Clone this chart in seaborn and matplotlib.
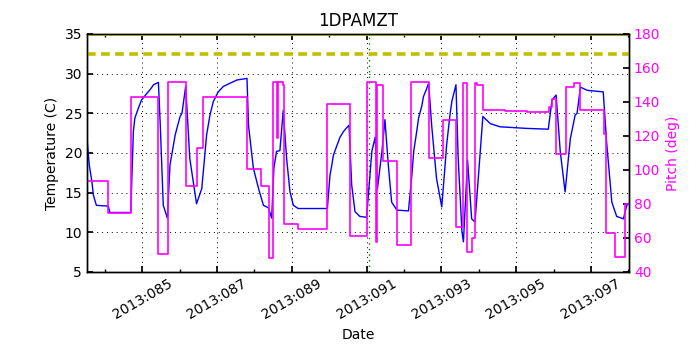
"""
Temperature 1DPAMZT vs pitch, with the yellow limit lines.
Days are day-of-year 2013.
"""
import matplotlib
matplotlib.use("Agg")
import matplotlib.pyplot as plt
import seaborn as sns
import pandas as pd

# ---------------------------------------------------------------------------
# Data
# ---------------------------------------------------------------------------
temp_days = [
    83.52, 83.58, 83.65, 83.69, 83.77, 84.09, 84.13, 84.69, 84.76, 84.80,
    84.89, 84.98, 85.12, 85.21, 85.30, 85.43, 85.48, 85.56, 85.67, 85.74,
    85.88, 86.01, 86.06, 86.16, 86.27, 86.45, 86.59, 86.72, 86.81, 86.90,
    87.03, 87.17, 87.44, 87.53, 87.80, 87.84, 87.97, 88.11, 88.24, 88.37,
    88.46, 88.52, 88.59, 88.68, 88.77, 88.86, 88.95, 89.04, 89.17, 89.95,
    90.02, 90.07, 90.11, 90.21, 90.29, 90.38, 90.47, 90.53, 90.60, 90.69,
    90.82, 91.00, 91.14, 91.23, 91.29, 91.41, 91.49, 91.58, 91.67, 91.81,
    92.12, 92.21, 92.26, 92.34, 92.39, 92.48, 92.52, 92.59, 92.66, 92.74,
    92.87, 93.01, 93.10, 93.14, 93.23, 93.28, 93.39, 93.45, 93.55, 93.59,
    93.70, 93.81, 93.90, 94.11, 94.31, 94.57, 95.28, 95.86, 95.96, 96.07,
    96.18, 96.31, 96.45, 96.58, 96.63, 96.72, 96.90, 97.33, 97.42, 97.56,
    97.69, 97.87, 97.96, 98.02,
]
temp_vals = [
    21.8, 18.5, 16.4, 14.7, 13.4, 13.3, 12.5, 12.5, 22.7, 24.4,
    25.6, 26.7, 27.5, 28.0, 28.6, 28.9, 23.5, 13.4, 11.8, 18.5,
    22.3, 24.6, 25.0, 28.4, 19.3, 13.6, 15.5, 22.3, 24.8, 26.5,
    27.7, 28.4, 29.0, 29.2, 29.4, 23.5, 18.1, 15.5, 13.4, 13.1,
    11.8, 18.1, 20.2, 20.3, 25.4, 19.3, 15.1, 13.4, 13.0, 13.0,
    17.2, 18.5, 19.7, 21.0, 22.0, 22.7, 23.2, 23.5, 16.0, 12.6,
    12.0, 11.9, 20.2, 22.0, 15.5, 20.2, 24.2, 18.5, 13.8, 12.8,
    12.7, 17.2, 20.2, 22.7, 24.4, 26.0, 27.1, 27.9, 28.8, 23.5,
    16.8, 13.2, 18.5, 21.0, 24.8, 26.5, 28.6, 19.3, 10.1, 8.8,
    19.1, 11.7, 11.3, 24.6, 23.7, 23.3, 23.1, 23.0, 26.7, 27.3,
    20.2, 15.1, 21.8, 24.8, 25.0, 28.3, 27.9, 27.7, 21.4, 13.8,
    12.0, 11.7, 13.4, 13.6,
]

pitch_days = [
    83.52, 84.09, 84.70, 85.43, 85.70, 86.16, 86.45, 86.61, 87.80, 88.18,
    88.40, 88.49, 88.61, 88.64, 88.75, 88.79, 89.17, 89.95, 90.55, 91.00,
    91.25, 91.29, 91.45, 91.81, 92.19, 92.66, 93.04, 93.39, 93.59, 93.68,
    93.83, 93.90, 93.95, 94.11, 94.71, 95.28, 95.89, 95.97, 96.07, 96.34,
    96.54, 96.72, 97.35, 97.40, 97.65, 97.92, 98.02,
]
pitch_vals = [
    93.5, 74.5, 142.8, 50.4, 152.0, 90.8, 113.0, 143.1, 100.6, 90.8,
    48.0, 152.0, 118.6, 152.0, 150.0, 68.0, 65.1, 138.8, 61.2, 152.0,
    57.8, 150.0, 105.5, 55.9, 151.6, 106.9, 129.4, 66.7, 151.0, 52.0,
    59.8, 151.0, 150.0, 135.3, 134.7, 134.4, 137.0, 142.0, 109.2, 149.0,
    151.4, 135.3, 121.0, 62.8, 48.6, 79.8, 79.8,
]

caution_limit = 32.5
planning_limit = 35.0
marker_day = 91.06

tick_days = [85, 87, 89, 91, 93, 95, 97]
tick_labels = [f"2013:{d:03d}" for d in tick_days]
minor_days = [84, 86, 88, 90, 92, 94, 96, 98]

# ---------------------------------------------------------------------------
# Plot
# ---------------------------------------------------------------------------
sns.set_theme(style="white", rc={
    "xtick.direction": "in",
    "ytick.direction": "in",
    "xtick.top": True,
    "xtick.bottom": True,
    "ytick.left": True,
    "axes.edgecolor": "black",
    "axes.linewidth": 1.0,
    "xtick.major.size": 4,
    "xtick.minor.size": 2,
    "ytick.major.size": 4,
    "xtick.color": "black",
    "ytick.color": "black",
    "text.color": "black",
    "axes.labelcolor": "black",
})
plt.rcParams["font.family"] = ["DejaVu Sans"]

temp_df = pd.DataFrame({"day": temp_days, "temp": temp_vals})
pitch_df = pd.DataFrame({"day": pitch_days, "pitch": pitch_vals})

fig = plt.figure(figsize=(7, 3.5), dpi=100)
ax = fig.add_axes([0.1243, 0.2229, 0.7743, 0.68])

sns.lineplot(data=temp_df, x="day", y="temp", ax=ax, color="blue",
             linewidth=1.0, sort=False, zorder=3)
ax.axhline(caution_limit, color=(0.75, 0.75, 0), linewidth=2.6,
           linestyle=(0, (2.4, 1.5)), zorder=4)
ax.axhline(planning_limit, color=(0.75, 0.75, 0), linewidth=2.0, zorder=4)
ax.axvline(marker_day, color="green", linestyle=(0, (1, 3)), linewidth=1.0,
           zorder=2)

ax.set_xlim(83.52, 98.02)
ax.set_ylim(5, 35)
ax.set_xticks(tick_days)
ax.set_xticklabels(tick_labels, rotation=30, ha="center", fontsize=10)
ax.set_xticks(minor_days, minor=True)
ax.set_yticks([5, 10, 15, 20, 25, 30, 35])
ax.tick_params(axis="y", labelsize=10, right=False)
ax.tick_params(axis="x", which="both", top=True)
ax.grid(True, which="major", color="black", linestyle=(0, (1, 4)),
        linewidth=0.7)
ax.set_xlabel("Date", fontsize=10)
ax.set_ylabel("Temperature (C)", fontsize=10)
ax.set_title("1DPAMZT", fontsize=12)

ax2 = ax.twinx()
sns.lineplot(data=pitch_df, x="day", y="pitch", ax=ax2, color="magenta",
             linewidth=1.2, sort=False, drawstyle="steps-post")
ax2.set_ylim(40, 180)
ax2.set_yticks(range(40, 181, 20))
ax2.tick_params(axis="y", labelsize=10, labelcolor="magenta", direction="in",
                right=True, color="black", length=4)
ax2.set_ylabel("Pitch (deg)", color="magenta", fontsize=10)
ax2.set_xlim(83.52, 98.02)
ax2.grid(False)

fig.savefig("out.png", dpi=100)
